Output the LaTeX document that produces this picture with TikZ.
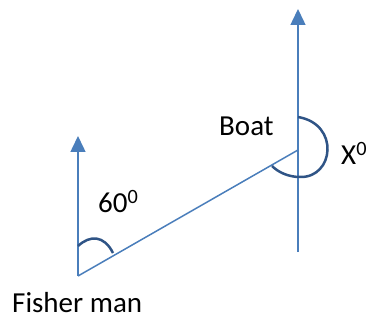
\documentclass[tikz,border=0pt]{standalone}
\usepackage{fontspec}
\setmainfont{Carlito}
\usetikzlibrary{arrows.meta}
\definecolor{lineblue}{HTML}{4A7EBB}
\definecolor{arcblue}{HTML}{2F5486}
\begin{document}
\begin{tikzpicture}[x=1pt,y=-1pt,
  ray/.style={draw=lineblue,line width=1.5pt},
  upray/.style={ray,-{Triangle[width=15pt,length=16pt]}},
  anglearc/.style={draw=arcblue,line width=2.5pt},
  lbl/.style={font=\fontsize{29}{32}\selectfont,inner sep=0pt}]
\useasboundingbox (0,0) rectangle (369,320);
\coordinate (F) at (78,276);
\coordinate (Ftop) at (78,136);
\coordinate (B) at (298,150);
\coordinate (Btop) at (298,9);
\coordinate (Bbot) at (298,252);
\draw[upray] (F) -- (Ftop);
\draw[upray] (Bbot) -- (Btop);
\draw[ray] (F) -- (B);
\draw[anglearc] (78,246) .. controls (90,235) and (104,235) .. (113,253);
\draw[anglearc] (298,117) .. controls (340,124) and (334,178) .. (300,177) .. controls (288,177) and (278,172) .. (272,166);
\node[lbl,anchor=base west] (fm) at (12,312) {Fisher man};
\node[lbl,anchor=base west] (boat) at (219,136) {Boat};
\node[lbl,anchor=base west] (sixty) at (98,213) {60\textsuperscript{0}};
\node[lbl,anchor=base west] (x) at (341,165) {X\textsuperscript{0}};
\end{tikzpicture}
\end{document}
